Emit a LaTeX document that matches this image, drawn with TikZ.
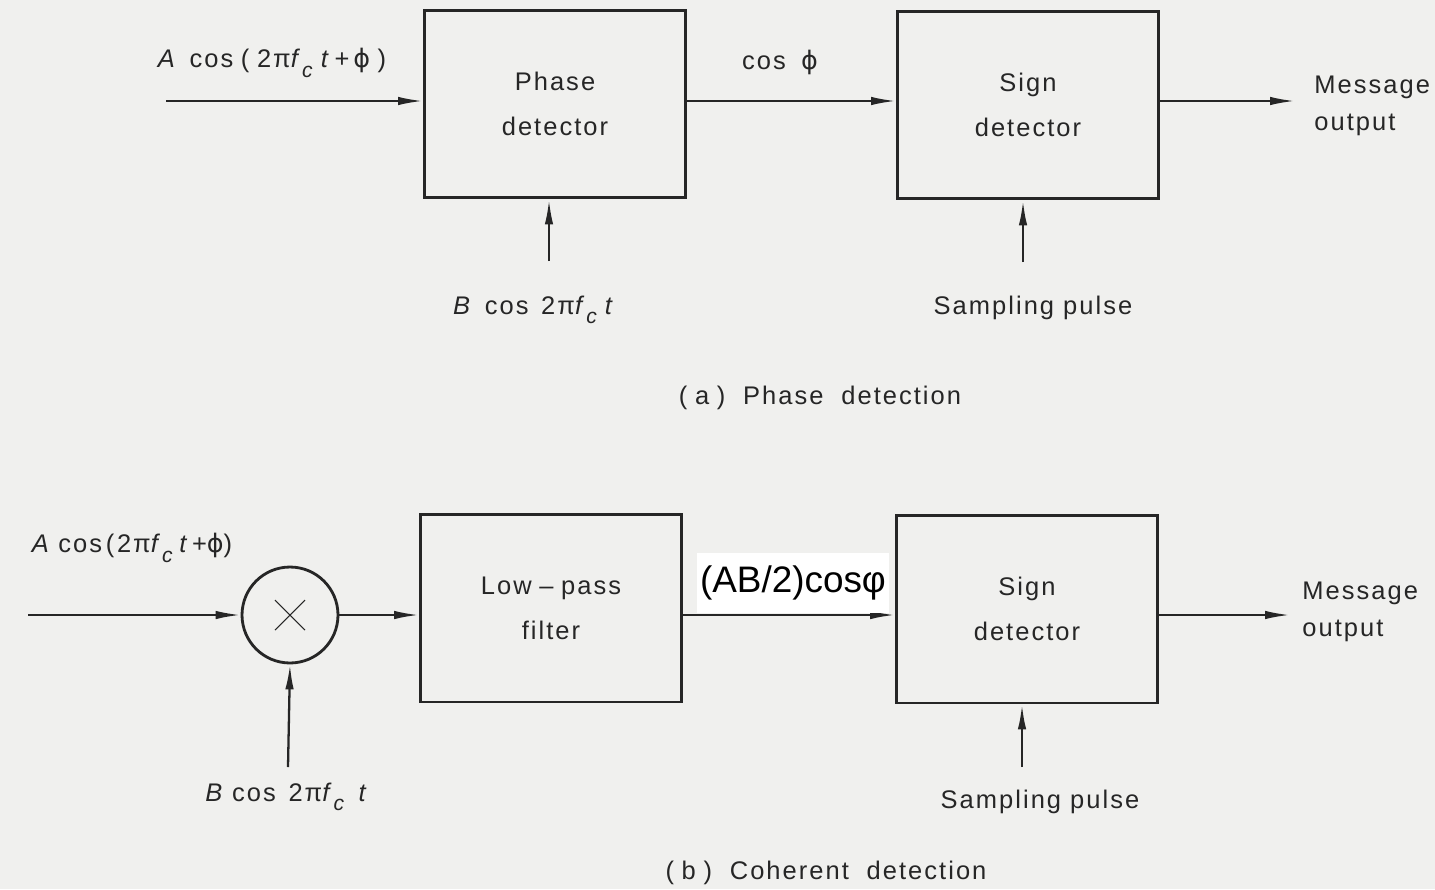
\documentclass[tikz,border=0pt]{standalone}
\usepackage{fontspec}
\setmainfont{Liberation Sans}[LetterSpace=8]
\newfontfamily\plainfont{Liberation Sans}
\newfontfamily\greekfont{DejaVu Sans}
\usetikzlibrary{positioning, calc, arrows.meta, shapes}
\definecolor{paper}{RGB}{240,240,238}
\definecolor{ink}{RGB}{38,38,38}
\newcommand{\fcsub}{\textit{f}\raisebox{-0.7ex}{\fontsize{12}{12}\selectfont\textit{c}}}
\newcommand{\phisym}{{\greekfont ϕ}}
\tikzset{
  block/.style={
    rectangle, draw=ink, line width=1.7pt,
    minimum width=5.22cm,
    minimum height=3.76cm,
    align=center, text=ink,
    font=\fontsize{14.5}{25.5}\selectfont
  },
  % Stili per i segnali
  mixer/.style={circle, draw=ink, line width=1.6pt, minimum size=1.92cm},
  signal/.style={-{Latex[length=5mm,width=1.7mm]}, draw=ink, line width=1.3pt},
  lbl/.style={text=ink, inner sep=0pt, align=left, font=\fontsize{14.5}{21}\selectfont},
  caption/.style={text=ink, inner sep=0pt, font=\fontsize{14.5}{16}\selectfont}
}

\begin{document}
\begin{tikzpicture}[x=0.02cm, y=-0.02cm]

\fill[paper] (0,0) rectangle (1435,889);
\useasboundingbox (0,0) rectangle (1435,889);

% (a) Rivelazione di fase
\node[block] (phase) at (555,104) {Phase\\detector};
\node[block] (signa) at (1028,105) {Sign\\detector};

\coordinate (ina) at (166,101);
\coordinate (outa) at (1295,101);
\coordinate (refa) at (549,261);
\coordinate (sampa) at (1023,262);

\draw[signal] (ina) -- (ina -| phase.west);
\draw[signal] (phase.east |- ina) -- (signa.west |- ina);
\draw[signal] (signa.east |- ina) -- (outa);
\draw[signal] (refa) -- (refa |- phase.south);
\draw[signal] (sampa) -- (sampa |- signa.south);

\node[lbl] (ina-l) at (272,63) {\textit{A}\hspace{0.5em}cos\hspace{0.3em}(\hspace{0.3em}2π\fcsub\hspace{0.25em}\textit{t}\hspace{0.15em}+\hspace{0.15em}\phisym\hspace{0.3em})};
\node[lbl] (cosa-l) at (780,62) {cos\hspace{0.6em}\phisym};
\node[lbl, anchor=west] (outa-l) at (1314,106) {Message\\output};
\node[lbl] (refa-l) at (534,310) {\textit{B}\hspace{0.5em}cos\hspace{0.5em}2π\fcsub\hspace{0.25em}\textit{t}};
\node[lbl] (sampa-l) at (1033,308) {Sampling pulse};
\node[caption] (capa) at (820,398) {(\hspace{0.3em}a\hspace{0.3em})\hspace{0.7em}Phase\hspace{0.7em}detection};

% (b) Rivelazione coerente
\node[mixer] (mult) at (290,615) {};
\node[block] (lpf) at (551,608) {Low\hspace{0.3em}–\hspace{0.3em}pass\\filter};
\node[block] (signb) at (1027,609) {Sign\\detector};

\coordinate (inb) at (28,615);
\coordinate (outb) at (1290,615);
\coordinate (refb) at (288,767);
\coordinate (sampb) at (1022,767);

\draw[ink, line width=0.6pt] ($(mult)+(-15,-15)$) -- ($(mult)+(15,15)$);
\draw[ink, line width=0.6pt] ($(mult)+(-15,15)$) -- ($(mult)+(15,-15)$);

\draw[signal] (inb) -- (mult.west);
\draw[signal] (mult.east) -- (lpf.west |- mult.east);
\draw[signal] (lpf.east |- inb) -- (signb.west |- inb);
\draw[signal] (signb.east |- inb) -- (outb);
\draw[signal] (refb) -- (mult.south);
\draw[signal] (sampb) -- (sampb |- signb.south);

\node[lbl] (inb-l) at (132,548) {\textit{A}\hspace{0.3em}cos\hspace{0.15em}(\hspace{0.1em}2π\fcsub\hspace{0.2em}\textit{t}\hspace{0.1em}+\phisym)};
\node[fill=white, inner xsep=1.5pt, inner ysep=0pt, minimum height=1.2cm, anchor=south west,
      font=\plainfont\fontsize{21}{24}\selectfont, text=black] (gain-l) at (697,613) {(AB/2)cosφ};
\node[lbl, anchor=west] (outb-l) at (1302,612) {Message\\output};
\node[lbl] (refb-l) at (287,797) {\textit{B}\hspace{0.3em}cos\hspace{0.5em}2π\fcsub\hspace{0.5em}\textit{t}};
\node[lbl] (sampb-l) at (1040,802) {Sampling pulse};
\node[caption] (capb) at (826,873) {(\hspace{0.3em}b\hspace{0.3em})\hspace{0.7em}Coherent\hspace{0.7em}detection};

\end{tikzpicture}
\end{document}
